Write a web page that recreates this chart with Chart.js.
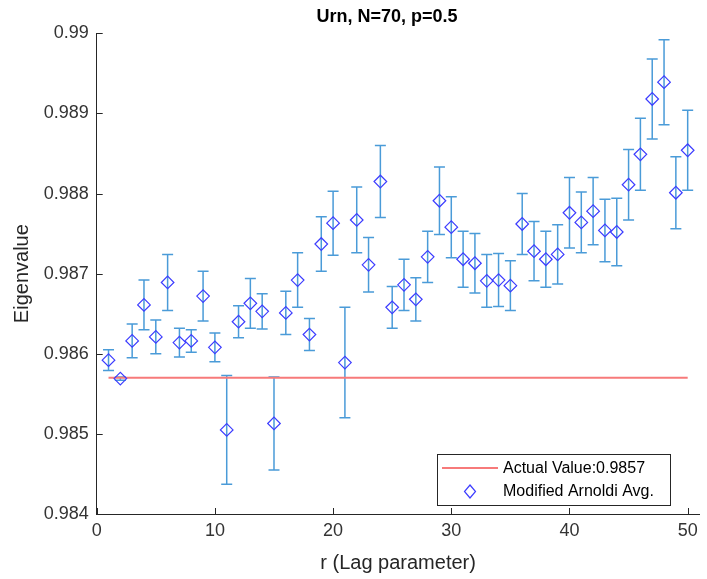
<!DOCTYPE html>
<html>
<head>
<meta charset="utf-8">
<title>Urn, N=70, p=0.5</title>
<script src="https://cdn.jsdelivr.net/npm/chart.js@4.4.1/dist/chart.umd.min.js"></script>
<style>
  body { margin: 0; background: #fff; }
  #chart { display: block; }
</style>
</head>
<body>
<canvas id="chart" width="707" height="579"></canvas>
<script>
// =====================
// DATA
// =====================
const lags = [1,2,3,4,5,6,7,8,9,10,11,12,13,14,15,16,17,18,19,20,21,22,23,24,25,
              26,27,28,29,30,31,32,33,34,35,36,37,38,39,40,41,42,43,44,45,46,47,48,49,50];
const avgEig = [0.98592,0.98569,0.98616,0.98661,0.98621,0.98689,0.98614,0.98616,0.98672,0.98608,
                0.98505,0.98640,0.98663,0.98653,0.98513,0.98651,0.98692,0.98624,0.98737,0.98763,
                0.98589,0.98767,0.98711,0.98815,0.98658,0.98686,0.98668,0.98721,0.98791,0.98758,
                0.98718,0.98713,0.98691,0.98692,0.98685,0.98762,0.98728,0.98718,0.98724,0.98776,
                0.98764,0.98778,0.98754,0.98752,0.98811,0.98849,0.98918,0.98939,0.98801,0.98854];
const errEig = [0.00013,0.00002,0.00021,0.00031,0.00021,0.00035,0.00018,0.00014,0.00031,0.00018,
                0.00068,0.00020,0.00031,0.00022,0.00058,0.00027,0.00034,0.00020,0.00034,0.00040,
                0.00069,0.00041,0.00034,0.00045,0.00026,0.00032,0.00027,0.00032,0.00042,0.00038,
                0.00035,0.00037,0.00033,0.00033,0.00031,0.00038,0.00037,0.00035,0.00037,0.00044,
                0.00038,0.00042,0.00039,0.00042,0.00044,0.00045,0.00050,0.00053,0.00045,0.00050];
const actualValue = 0.9857;
const actualRange = [1, 50];

const xTicks = [0, 10, 20, 30, 40, 50];
const yTicks = [0.984, 0.985, 0.986, 0.987, 0.988, 0.989, 0.99];
const yTickLabels = ["0.984", "0.985", "0.986", "0.987", "0.988", "0.989", "0.99"];

const chartTitle = "Urn, N=70, p=0.5";
const legendLabels = ["Actual Value:0.9857", "Modified Arnoldi Avg."];

// colours
const axisColor = "#262626";
const redLine = "#f77a7a";
const barColor = "#4a9bd8";
const markerColor = "#3d3dff";
const fontFamily = "'Liberation Sans', Arial, Helvetica, sans-serif";

// =====================
// PLUGINS
// =====================
// vertical error bars with caps, drawn under the markers
const errorBars = {
  id: "errorBars",
  beforeDatasetsDraw(chart) {
    const ctx = chart.ctx;
    const xs = chart.scales.x, ys = chart.scales.y;
    ctx.save();
    ctx.strokeStyle = barColor;
    ctx.lineWidth = 1.5;
    lags.forEach((r, i) => {
      const px = xs.getPixelForValue(r);
      const top = ys.getPixelForValue(avgEig[i] + errEig[i]);
      const bot = ys.getPixelForValue(avgEig[i] - errEig[i]);
      ctx.beginPath();
      ctx.moveTo(px, top); ctx.lineTo(px, bot);
      ctx.moveTo(px - 5.5, top); ctx.lineTo(px + 5.5, top);
      ctx.moveTo(px - 5.5, bot); ctx.lineTo(px + 5.5, bot);
      ctx.stroke();
    });
    ctx.restore();
  }
};

// title, matlab style ticks pointing into the plot + the legend box
const axesExtras = {
  id: "axesExtras",
  afterDraw(chart) {
    const ctx = chart.ctx;
    const area = chart.chartArea;
    const xs = chart.scales.x, ys = chart.scales.y;
    ctx.save();

    ctx.fillStyle = "#000";
    ctx.font = "bold 18px " + fontFamily;
    ctx.textAlign = "center";
    ctx.textBaseline = "middle";
    ctx.fillText(chartTitle, 387, 17);

    ctx.strokeStyle = axisColor;
    ctx.lineWidth = 1;
    ctx.beginPath();
    xs.ticks.forEach(t => {
      const px = Math.round(xs.getPixelForValue(t.value)) + 0.5;
      ctx.moveTo(px, area.bottom); ctx.lineTo(px, area.bottom - 6);
    });
    ys.ticks.forEach(t => {
      const py = Math.round(ys.getPixelForValue(t.value)) + 0.5;
      ctx.moveTo(area.left, py); ctx.lineTo(area.left + 6, py);
    });
    ctx.stroke();

    // legend
    const bx = 437.5, by = 454.5, bw = 233, bh = 51;
    ctx.fillStyle = "#fff";
    ctx.fillRect(bx, by, bw, bh);
    ctx.strokeStyle = axisColor;
    ctx.strokeRect(bx, by, bw, bh);

    ctx.strokeStyle = redLine;
    ctx.lineWidth = 2;
    ctx.beginPath();
    ctx.moveTo(442, 468); ctx.lineTo(498, 468);
    ctx.stroke();

    ctx.strokeStyle = markerColor;
    ctx.lineWidth = 1.2;
    ctx.beginPath();
    ctx.moveTo(470, 485); ctx.lineTo(475.5, 491.5); ctx.lineTo(470, 498); ctx.lineTo(464.5, 491.5);
    ctx.closePath();
    ctx.stroke();

    ctx.fillStyle = "#000";
    ctx.font = "16px " + fontFamily;
    ctx.textBaseline = "middle";
    ctx.textAlign = "left";
    ctx.fillText(legendLabels[0], 503, 469);
    ctx.fillText(legendLabels[1], 503, 492);
    ctx.restore();
  }
};

// =====================
// CHART
// =====================
const ctx = document.getElementById("chart").getContext("2d");

new Chart(ctx, {
  type: "scatter",
  data: {
    datasets: [
      {
        type: "line",
        label: legendLabels[0],
        data: actualRange.map(r => ({ x: r, y: actualValue })),
        borderColor: redLine,
        borderWidth: 2,
        pointRadius: 0,
        fill: false,
        order: 2
      },
      {
        label: legendLabels[1],
        data: lags.map((r, i) => ({ x: r, y: avgEig[i] })),
        pointStyle: "rectRot",
        pointRadius: 6.3,
        pointBorderWidth: 1.2,
        borderColor: markerColor,
        backgroundColor: "rgba(0,0,0,0)",
        order: 1
      }
    ]
  },
  options: {
    responsive: false,
    animation: false,
    layout: { padding: { top: 33.3, left: 0, right: 2, bottom: 0 } },
    plugins: {
      legend: { display: false },
      tooltip: { enabled: false },
      title: { display: false }
    },
    scales: {
      x: {
        type: "linear",
        min: 0,
        max: 51,
        afterBuildTicks: s => { s.ticks = xTicks.map(v => ({ value: v })); },
        afterFit: s => { s.height = 65; },
        grid: { display: false, drawTicks: false },
        border: { display: true, color: axisColor, width: 1 },
        ticks: {
          color: "#333",
          padding: 6,
          maxRotation: 0,
          font: { family: fontFamily, size: 18 }
        },
        title: {
          display: true,
          text: "r (Lag parameter)",
          color: axisColor,
          font: { family: fontFamily, size: 20 },
          padding: { top: 0, bottom: 4 }
        }
      },
      y: {
        type: "linear",
        min: 0.984,
        max: 0.99,
        afterBuildTicks: s => { s.ticks = yTicks.map(v => ({ value: v })); },
        afterFit: s => { s.width = 96.7; },
        grid: { display: false, drawTicks: false },
        border: { display: true, color: axisColor, width: 1 },
        ticks: {
          color: "#333",
          padding: 8,
          font: { family: fontFamily, size: 18 },
          callback: (v) => yTickLabels[yTicks.findIndex(t => Math.abs(t - v) < 1e-9)]
        },
        title: {
          display: true,
          text: "Eigenvalue",
          color: axisColor,
          font: { family: fontFamily, size: 20 },
          padding: { top: 10, bottom: 0 }
        }
      }
    }
  },
  plugins: [errorBars, axesExtras]
});
</script>
</body>
</html>
